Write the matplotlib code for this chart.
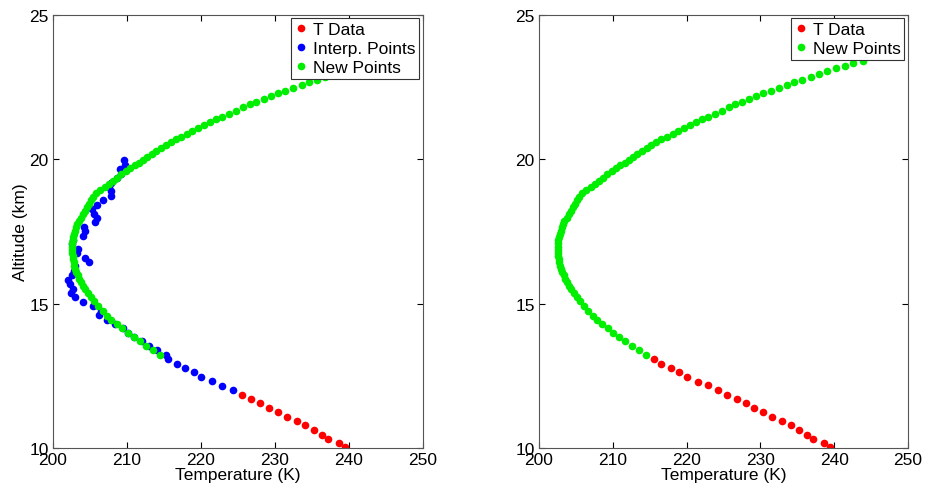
import matplotlib
matplotlib.use("Agg")
import matplotlib.pyplot as plt

plt.rcParams['font.family'] = ['Liberation Sans', 'DejaVu Sans']
plt.rcParams['font.size'] = 12.5

# Temperature data (measured)
z_data = [13.08, 12.92, 12.78, 12.62, 12.46, 12.30, 12.17, 12.00, 11.85, 11.70, 11.55,
          11.38, 11.23, 11.08, 10.92, 10.78, 10.62, 10.46, 10.31, 10.17, 10.02]
t_data = [215.6, 216.6, 217.9, 219.0, 220.0, 221.5, 222.9, 224.3, 225.5, 226.8, 228.0,
          229.2, 230.4, 231.6, 233.0, 234.1, 235.3, 236.3, 237.2, 238.6, 239.5]

# interpolated points (left panel only)
z_interp = [12.01, 12.16, 12.31, 12.47, 12.62, 12.77, 12.92, 13.08, 13.23, 13.38, 13.54,
            13.69, 13.84, 13.99, 14.15, 14.30, 14.45, 14.61, 14.76, 14.91, 15.07, 15.22,
            15.37, 15.52, 15.68, 15.83, 15.98, 16.14, 16.29, 16.44, 16.59, 16.75, 16.90,
            17.05, 17.21, 17.36, 17.51, 17.66, 17.82, 17.97, 18.12, 18.28, 18.43, 18.58,
            18.73, 18.89, 19.04, 19.19, 19.35, 19.50, 19.65, 19.80, 19.96]
t_interp = [224.3, 222.9, 221.5, 220.0, 219.0, 217.9, 216.7, 215.6, 215.3, 214.1, 213.0,
            212.0, 211.0, 210.2, 209.4, 208.4, 207.3, 206.2, 206.5, 205.4, 204.1, 203.0,
            202.4, 202.7, 202.3, 202.0, 202.6, 202.8, 203.0, 204.8, 204.3, 203.3, 203.4,
            202.5, 202.7, 204.1, 204.3, 204.2, 205.7, 205.9, 205.6, 205.3, 205.9, 206.8,
            207.9, 207.9, 207.6, 207.8, 208.6, 209.2, 209.1, 209.7, 209.6]

# new (fitted) points
z_new = [13.23, 13.40, 13.55, 13.71, 13.84, 13.99, 14.16, 14.30, 14.45, 14.58, 14.76,
         14.93, 15.10, 15.24, 15.37, 15.50, 15.62, 15.74, 15.86, 15.98, 16.10, 16.21,
         16.32, 16.43, 16.54, 16.65, 16.76, 16.87, 16.98, 17.09, 17.20, 17.31, 17.42,
         17.53, 17.64, 17.75, 17.86, 17.98, 18.10, 18.22, 18.34, 18.46, 18.58, 18.70,
         18.82, 18.93, 19.04, 19.15, 19.26, 19.37, 19.48, 19.59, 19.69, 19.79, 19.89,
         19.99, 20.09, 20.19, 20.29, 20.39, 20.49, 20.59, 20.69, 20.79, 20.89, 20.99,
         21.09, 21.19, 21.29, 21.39, 21.48, 21.57, 21.69, 21.80, 21.92, 22.00, 22.09,
         22.18, 22.29, 22.38, 22.47, 22.58, 22.67, 22.76, 22.86, 22.96, 23.05, 23.15,
         23.25, 23.34, 23.42]
t_new = [214.5, 213.5, 212.6, 211.7, 210.9, 210.1, 209.3, 208.6, 207.9, 207.3, 206.7,
         206.1, 205.6, 205.1, 204.7, 204.35, 204.05, 203.8, 203.55, 203.35, 203.15, 203.0,
         202.88, 202.78, 202.7, 202.64, 202.6, 202.58, 202.58, 202.6, 202.64, 202.7, 202.8,
         202.92, 203.08, 203.25, 203.45, 203.75, 204.05, 204.3, 204.55, 204.85, 205.1, 205.4,
         205.85, 206.4, 207.0, 207.55, 208.1, 208.65, 209.2, 209.85, 210.45, 211.05, 211.6,
         212.15, 212.75, 213.35, 213.95, 214.6, 215.25, 215.9, 216.6, 217.35, 218.1, 218.85,
         219.65, 220.45, 221.25, 222.05, 222.9, 223.8, 224.8, 225.7, 226.6, 227.5, 228.5,
         229.4, 230.4, 231.4, 232.5, 233.6, 234.6, 235.7, 236.8, 237.9, 239.1, 240.2,
         241.5, 242.6, 243.9]

# points that were replaced by interpolation in the left panel
n_left_data = 13

x_ticks = [200, 210, 220, 230, 240, 250]
y_ticks = [10, 15, 20, 25]


def style_axes(ax):
    """Aspecto tipo MATLAB"""
    ax.set_xlim(200, 250)
    ax.set_ylim(10, 25)
    ax.set_xticks(x_ticks)
    ax.set_yticks(y_ticks)
    ax.tick_params(direction='in', length=4, top=True, right=True,
                   labelsize=12.5, pad=3)
    for sp in ax.spines.values():
        sp.set_color('#555555')
        sp.set_linewidth(0.8)
    ax.set_xlabel('Temperature (K)', fontsize=12.5, labelpad=0)


def add_legend(ax):
    leg = ax.legend(loc='upper right', fancybox=False, framealpha=1,
                    edgecolor='#333333', borderaxespad=0.2, borderpad=0.22,
                    handlelength=0.7, handletextpad=0.35, labelspacing=0.22,
                    fontsize=12.5)
    leg.get_frame().set_linewidth(0.8)
    leg.set_zorder(10)


fig = plt.figure(figsize=(9.27, 4.89), dpi=100)
ax1 = fig.add_axes([0.0572, 0.0818, 0.399, 0.8855])
ax2 = fig.add_axes([0.5814, 0.0818, 0.398, 0.8855])

ms = 5.5

# left panel
ax1.plot(t_data[-n_left_data:], z_data[-n_left_data:], 'o', color='#ff0000',
         ms=ms, mec='none', label='T Data')
ax1.plot(t_interp, z_interp, 'o', color='#0000ff', ms=ms, mec='none',
         label='Interp. Points')
ax1.plot(t_new, z_new, 'o', color='#00ee00', ms=ms, mec='none', label='New Points')
style_axes(ax1)
ax1.set_ylabel('Altitude (km)', fontsize=12.5, labelpad=1)
add_legend(ax1)

# right panel
ax2.plot(t_data, z_data, 'o', color='#ff0000', ms=ms, mec='none', label='T Data')
ax2.plot(t_new, z_new, 'o', color='#00ee00', ms=ms, mec='none', label='New Points')
style_axes(ax2)
add_legend(ax2)

fig.savefig('out.png', dpi=100)
